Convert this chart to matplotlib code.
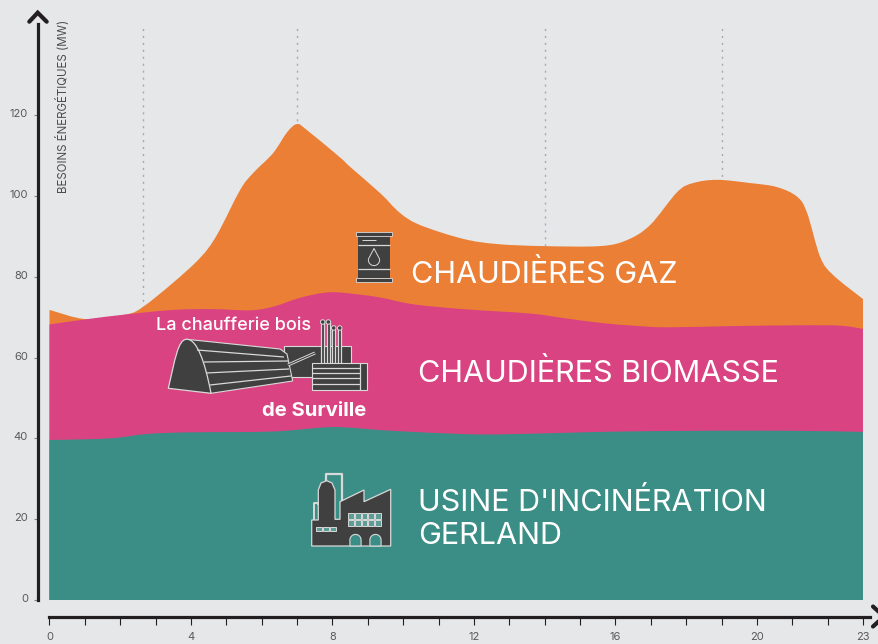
import numpy as np
import matplotlib
matplotlib.use("Agg")
import matplotlib.pyplot as plt
from matplotlib.path import Path
from matplotlib.patches import PathPatch, Polygon, Rectangle, Ellipse
from matplotlib.transforms import ScaledTranslation

# hours / MW
gaz_h = [0, 1.05, 2.18, 2.65, 3.49, 4.26, 4.73, 5.39, 5.76, 6.32, 6.72, 7.0, 7.28, 8.22, 8.5, 9.35, 9.91,
         10.48, 11.69, 12.66, 13.96, 15.57, 16.33, 16.98, 17.75, 18.2, 18.88, 19.81, 20.57, 21.14, 21.42,
         21.79, 22.16, 23]
gaz_mw = [71.8, 69.5, 70.7, 72.6, 78.5, 84.7, 90.3, 101.5, 105.7, 110.6, 115.8, 117.8, 116.3, 109.5, 107.2,
          100.7, 95.8, 92.8, 89.4, 88.1, 87.6, 87.6, 89.1, 92.8, 101, 103.2, 104, 103.2, 102.2, 99.8, 95.8,
          84.9, 80.4, 74.5]
bio_h = [0, 1.05, 2.18, 3.49, 4.62, 5.67, 6.32, 7.08, 7.73, 8.22, 9.27, 10.28, 11.69, 13.59, 14.52, 15.57,
         16.5, 17.46, 19.33, 21.22, 22.36, 23]
bio_mw = [68.2, 69.5, 70.7, 71.8, 72.0, 71.7, 72.6, 74.8, 76.0, 76.1, 75.0, 73.2, 72.0, 70.9, 69.8, 68.6,
          67.9, 67.5, 67.8, 68.0, 67.9, 67.1]
usine_h = [0, 1.7, 2.76, 3.97, 6.32, 8.02, 9.63, 11.61, 12.74, 14.63, 17.0, 20.74, 23]
usine_mw = [39.6, 40.0, 41.1, 41.5, 41.7, 42.8, 41.9, 41.1, 41.0, 41.4, 41.8, 41.9, 41.6]

x_ticks = list(range(24))
x_labels = ['0', '', '', '', '4', '', '', '', '8', '', '', '', '12', '', '', '', '16', '', '', '', '20', '', '', '23']
y_ticks = [0, 20, 40, 60, 80, 100, 120]
guides = [2.65, 7, 14, 19]

bg = '#e6e7e9'
dark = '#231f20'
icon = '#404041'
icon_line = '#d9d9d9'
plt.rcParams['font.family'] = ['Inter', 'DejaVu Sans']

fig = plt.figure(figsize=(8.79, 6.44), dpi=100, facecolor=bg)
ax = fig.add_axes([49.5/879, 44/644, 813.5/879, 576/644], facecolor=bg)
ax.set_xlim(0, 23)
ax.set_ylim(0, 142.57)


def area(xs, ys, color, z):
    # smooth top edge, closed along y=0
    p = np.column_stack([xs, ys])
    verts = [(xs[0], 0), p[0]]
    codes = [Path.MOVETO, Path.LINETO]
    for i in range(len(p)-1):
        a = p[max(i-1, 0)]
        d = p[min(i+2, len(p)-1)]
        verts += [p[i]+(p[i+1]-a)/6, p[i+1]-(d-p[i])/6, p[i+1]]
        codes += [Path.CURVE4]*3
    verts += [(xs[-1], 0), (xs[0], 0)]
    codes += [Path.LINETO, Path.CLOSEPOLY]
    ax.add_patch(PathPatch(Path(verts, codes), facecolor=color, edgecolor='none', zorder=z))


ax.vlines(guides, 0, 142.4, color='#a7a9ac', lw=1, linestyles=(0, (1.5, 3.5)), zorder=1)
area(gaz_h, gaz_mw, '#eb7f36', 2)
area(bio_h, bio_mw, '#da4381', 3)
area(usine_h, usine_mw, '#3b8e86', 4)

for s in ['top', 'right']:
    ax.spines[s].set_visible(False)
ax.spines['left'].set_position(('outward', 8.5))
ax.spines['left'].set_bounds(0, 142.57)
ax.spines['left'].set_linewidth(2.3)
ax.spines['left'].set_color(dark)
ax.spines['bottom'].set_position(('outward', 11.9))
ax.spines['bottom'].set_bounds(0, 23.2)
ax.spines['bottom'].set_linewidth(2.3)
ax.spines['bottom'].set_color(dark)
ax.set_xticks(x_ticks)
ax.set_xticklabels(x_labels)
ax.set_yticks(y_ticks)
ax.tick_params(axis='x', length=5.5, width=0.8, color=dark, labelsize=8, labelcolor='#58595b', pad=6)
ax.tick_params(axis='y', length=3, width=0.8, color='#808285', labelsize=8, labelcolor='#58595b', pad=4)
# the y labels sit a little above their ticks
up = ScaledTranslation(0, 1.5/72, fig.dpi_scale_trans)
for lab in ax.get_yticklabels():
    lab.set_transform(lab.get_transform()+up)

# overlay in pixels for the arrows, texts and icons
ov = fig.add_axes([0, 0, 1, 1], facecolor='none')
ov.set_xlim(0, 879)
ov.set_ylim(644, 0)
ov.axis('off')

ov.plot([29.3, 37.7, 46.7], [21.7, 12.7, 21.7], color=dark, lw=3, solid_capstyle='round', solid_joinstyle='miter')
ov.plot([873, 884, 873], [606.5, 616.5, 626.5], color=dark, lw=3, solid_capstyle='round', solid_joinstyle='miter')

ov.text(63, 193, 'BESOINS ÉNERGÉTIQUES (MW)', rotation=90, ha='center', va='bottom', fontsize=8.3, color='#4d4d4f')

big = dict(color='white', fontsize=22, fontweight='normal', va='center', ha='left', zorder=10)
ov.text(411, 274, 'CHAUDIÈRES GAZ', **big)
ov.text(418, 373, 'CHAUDIÈRES BIOMASSE', **big)
ov.text(418, 502, "USINE D'INCINÉRATION", **big)
ov.text(418, 536, 'GERLAND', **big)
ov.text(156, 325, 'La chaufferie bois', color='white', fontsize=13, fontweight='medium', va='center', zorder=10)
ov.text(262, 411, 'de Surville', color='white', fontsize=14.6, fontweight='bold', va='center', zorder=10)


def rect(x0, y0, x1, y1, fc=icon, ec=icon_line, lw=0.8, z=6):
    ov.add_patch(Rectangle((x0, y0), x1-x0, y1-y0, facecolor=fc, edgecolor=ec, lw=lw, zorder=z))


def line(xs, ys, c=icon_line, lw=0.9, z=7):
    ov.plot(xs, ys, color=c, lw=lw, zorder=z, solid_capstyle='butt')


# barrel
rect(358, 235.7, 390, 278, ec='none')
rect(355.7, 232, 392.3, 235.7, lw=0.6)
rect(355.7, 278, 392.3, 282, lw=0.6)
line([358, 390], [245, 245])
line([358, 390], [268.5, 268.5])
line([362, 376], [240, 240], lw=0.7)
th = np.linspace(-0.2, np.pi+0.2, 30)
drop_x = np.r_[374, 374+5.6*np.cos(th), 374]
drop_y = np.r_[248.5, 260+5.6*np.sin(th), 248.5]
line(drop_x, drop_y, lw=0.7)

# wood boiler hall
rect(284, 346, 350.7, 376.7)
arch = Path([(168.3, 388.3), (175, 360), (178, 339), (186.7, 339.3), (197, 339), (205, 362), (211, 393.3), (168.3, 388.3)],
            [Path.MOVETO, Path.CURVE4, Path.CURVE4, Path.CURVE4, Path.CURVE4, Path.CURVE4, Path.CURVE4, Path.CLOSEPOLY])
ov.add_patch(Polygon([(186.7, 339.3), (280, 349), (287, 354), (292.7, 381), (211, 393.3)], facecolor=icon,
                     edgecolor=icon_line, lw=0.8, zorder=7))
ov.add_patch(PathPatch(arch, facecolor=icon, edgecolor=icon_line, lw=0.9, zorder=8))
line([197, 284], [350, 357], z=8)
line([204, 288], [362, 361], z=8)
line([206, 289], [373, 369], z=8)
line([210, 291], [385, 376], z=8)
line([288, 315], [365, 353], lw=2.2, z=8)
line([288, 315], [365, 353], c=icon, lw=0.8, z=9)
for x0, x1, y0 in [(321, 324.4, 322), (326.7, 330, 322), (332, 335.4, 328), (338, 341.4, 328)]:
    rect(x0, y0, x1, 364, lw=0.9, fc=icon)
    ov.add_patch(Ellipse(((x0+x1)/2, y0), 4.5, 4.5, facecolor=icon, edgecolor=icon_line, lw=0.7, zorder=7))
rect(312.3, 362.7, 366.7, 390, z=8)
for yy in [368, 373, 378, 384]:
    line([312.3, 360], [yy, yy], z=9)
line([360, 360], [362.7, 390], z=9)

# incineration plant
fx = [311.7, 311.7, 318.3, 318.3, 321, 326.7, 332, 335, 335, 340, 340, 364, 364, 390.7, 390.7, 311.7]
fy = [546, 520, 520, 490, 483, 480.7, 483, 490, 519.3, 519.3, 501.7, 490, 501.7, 489.3, 546, 546]
ov.add_patch(Polygon(np.column_stack([fx, fy]), facecolor=icon, edgecolor=icon_line, lw=0.9, zorder=6))
line([326, 326, 342, 342], [481, 473.5, 473.5, 501], lw=1.6)
line([314, 314, 318, 318], [520, 502.5, 502.5, 505], lw=1.4)
for cx in [355.5, 375.5]:
    th = np.linspace(np.pi, 0, 20)
    door_x = np.r_[cx-5.6, cx+5.6*np.cos(th), cx+5.6]
    door_y = np.r_[546, 540-5.6*np.sin(th), 546]
    ov.fill(door_x, door_y, facecolor='#3b8e86', edgecolor=icon_line, lw=0.8, zorder=7)
for row in range(2):
    for col in range(5):
        rect(348.5+col*6.6, 512.5+row*7, 354.3+col*6.6, 518.7+row*7, fc='#5f9c95', lw=0.7, z=7)
for col in range(3):
    rect(316+col*7, 527, 322+col*7, 531, fc='#5f9c95', lw=0.7, z=7)

fig.savefig('out.png', dpi=100, facecolor=bg)
